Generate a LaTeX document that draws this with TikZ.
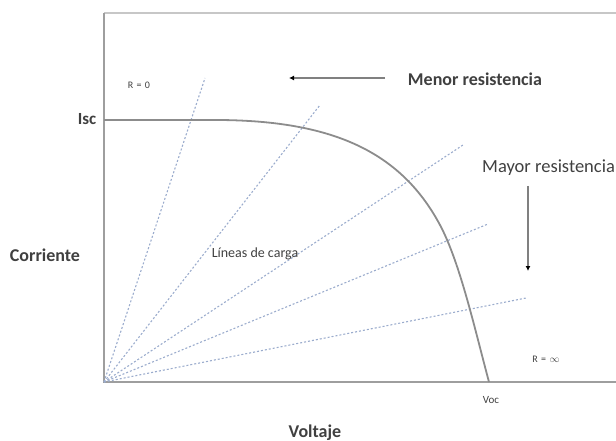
\documentclass[tikz,border=0pt]{standalone}
\usepackage{fontspec}
\setmainfont{Carlito}
\usetikzlibrary{arrows.meta}
\definecolor{loadcol}{RGB}{155,172,205}
\begin{document}
\begin{tikzpicture}[x=1pt,y=-1pt,
  axisline/.style={draw=black!38,line width=2pt},
  frameline/.style={draw=black!22,line width=2.5pt},
  curveline/.style={draw=black!45,line width=1.8pt},
  loadline/.style={draw=loadcol,line width=1.1pt,dash pattern=on 2pt off 2pt},
  arrowline/.style={draw=black!50,line width=1.6pt,-{Latex[length=5pt,width=5pt,color=black]}},
  lbl/.style={text=black!75,inner sep=0pt}]
\useasboundingbox (0,0) rectangle (616,441);
% frame and axes
\coordinate (tl) at (104,13);
\coordinate (tr) at (616,13);
\coordinate (o) at (104,382);
\coordinate (xr) at (616,382);
\draw[frameline] (tl) -- (tr);
\draw[axisline] (tl) -- (o) -- (xr);
% load lines
\coordinate (l1) at (205,78);
\coordinate (l2) at (320,105);
\coordinate (l3) at (463,145);
\coordinate (l4) at (488,224);
\coordinate (l5) at (526,298);
\foreach \e in {l1,l2,l3,l4,l5} \draw[loadline] (o) -- (\e);
% I-V curve
\coordinate (c0) at (104,120);
\coordinate (c1) at (220,120);
\coordinate (c2) at (440,225);
\coordinate (voc0) at (489,382);
\draw[curveline] (c0) -- (c1) .. controls (330,121) and (400,150) .. (c2) .. controls (460,262.5) and (475,330) .. (voc0);
% arrows
\coordinate (a1s) at (385,78);
\coordinate (a1e) at (289,78);
\draw[arrowline] (a1s) -- (a1e);
\coordinate (a2s) at (528,186);
\coordinate (a2e) at (528,271);
\draw[arrowline] (a2s) -- (a2e);
% labels
\node[lbl,font=\bfseries\fontsize{18}{20}\selectfont] (menor) at (475,79) {Menor resistencia};
\node[lbl,anchor=west,font=\fontsize{18.5}{20}\selectfont] (mayor) at (482,168) {Mayor resistencia};
\node[lbl,font=\bfseries\fontsize{17}{19}\selectfont] (isc) at (87,119) {Isc};
\node[lbl,font=\bfseries\fontsize{18}{20}\selectfont] (corr) at (45,255) {Corriente};
\node[lbl,font=\bfseries\fontsize{18}{20}\selectfont] (volt) at (315,433) {Voltaje};
\node[lbl,font=\fontsize{14}{16}\selectfont] (lineas) at (255,254) {Líneas de carga};
\node[lbl,font=\fontsize{10}{12}\selectfont] (r0) at (139,85) {R\,\,=\,\,0};
\node[lbl,font=\fontsize{10}{12}\selectfont] (rinf) at (546,359) {R\,\,=\,\,$\infty$};
\node[lbl,font=\fontsize{11}{13}\selectfont] (voc) at (491,400) {Voc};
\end{tikzpicture}
\end{document}
